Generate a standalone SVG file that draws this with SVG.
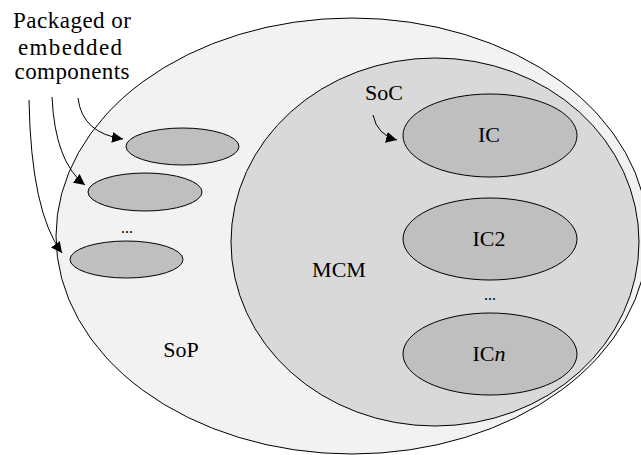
<svg xmlns="http://www.w3.org/2000/svg" width="641" height="455" viewBox="0 0 641 455" font-family="'Liberation Serif', 'Times New Roman', serif">
<style>
.e{stroke:#000;stroke-width:1}
.sop{fill:#f2f2f2}
.mcm{fill:#d9d9d9}
.c{fill:#bfbfbf}
.t{font-family:'Liberation Serif','Times New Roman',serif;font-size:22px;fill:#000;text-anchor:middle}
.lb{font-size:23px}
.arr{fill:none;stroke:#000;stroke-width:1;marker-end:url(#ah)}
</style>
<defs>
<marker id="ah" viewBox="0 0 10 10" refX="10" refY="5" markerWidth="11" markerHeight="11" markerUnits="userSpaceOnUse" orient="auto">
<path d="M0,0 L10,5 L0,10 Z" fill="#000"/>
</marker>
</defs>
<rect width="641" height="455" fill="#fff"/>
<g id="sop">
<ellipse class="e sop" cx="352" cy="236" rx="296" ry="218"/>
<text class="t" x="181" y="357">SoP</text>
</g>
<g id="mcm">
<ellipse class="e mcm" cx="435" cy="242" rx="204" ry="184"/>
<text class="t" x="339" y="277">MCM</text>
</g>
<g id="comp1"><ellipse class="e c" cx="182.5" cy="146.5" rx="56.5" ry="18.5"/></g>
<g id="comp2"><ellipse class="e c" cx="145" cy="192" rx="57" ry="19"/></g>
<g id="comp-dots"><text class="t" x="127" y="233" style="font-size:16px">...</text></g>
<g id="comp3"><ellipse class="e c" cx="126.5" cy="259.5" rx="56.5" ry="18.5"/></g>
<g id="ic1">
<ellipse class="e c" cx="490" cy="135.5" rx="87" ry="41.5"/>
<text class="t" x="489" y="142">IC</text>
</g>
<g id="ic2">
<ellipse class="e c" cx="490" cy="239" rx="87" ry="41"/>
<text class="t" x="489" y="246">IC2</text>
</g>
<g id="ic-dots"><text class="t" x="490" y="300" style="font-size:16px">...</text></g>
<g id="icn">
<ellipse class="e c" cx="490" cy="354" rx="87" ry="41"/>
<text class="t" x="489" y="361">IC<tspan font-style="italic">n</tspan></text>
</g>
<g id="label-components">
<text class="t lb" x="72" y="28" textLength="118" lengthAdjust="spacing">Packaged or</text>
<text class="t lb" x="70" y="55" textLength="104" lengthAdjust="spacing">embedded</text>
<text class="t lb" x="72" y="79" textLength="115" lengthAdjust="spacing">components</text>
</g>
<g id="label-soc"><text class="t" x="384" y="100">SoC</text></g>
<g id="connectors">
<path class="arr" d="M78,98 Q82,133 123,139"/>
<path class="arr" d="M52,97 Q55,162 85,185"/>
<path class="arr" d="M29,100 Q31,212 62,253"/>
<path class="arr" d="M373,115 Q377,135 397,140"/>
</g>
</svg>
